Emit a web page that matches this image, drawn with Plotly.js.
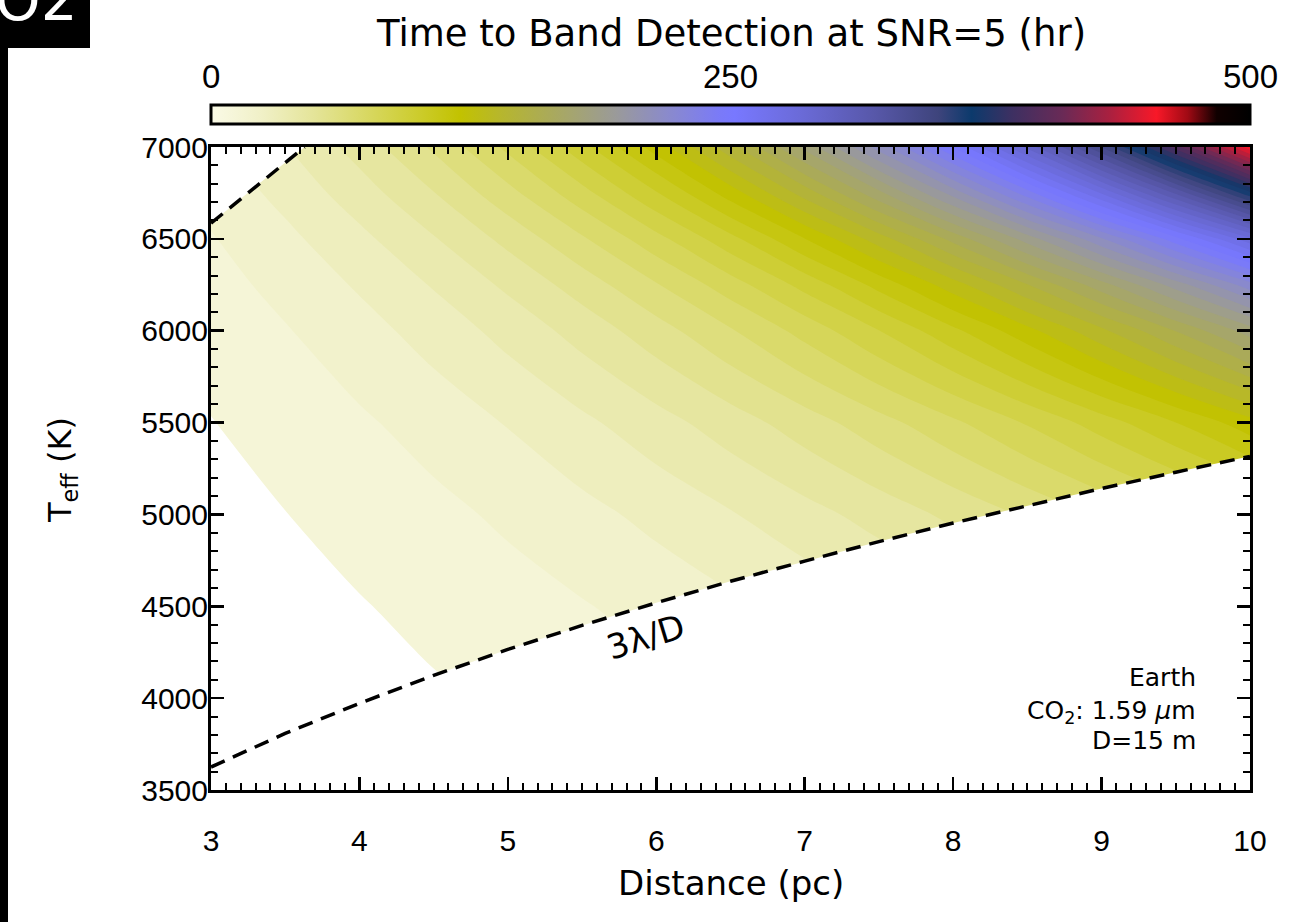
<!DOCTYPE html>
<html>
<head>
<meta charset="utf-8">
<script src="https://cdn.plot.ly/plotly-3.0.1.min.js"></script>
<style>
html, body { margin: 0; padding: 0; background: #ffffff; }
#chart { width: 1313px; height: 922px; }
</style>
</head>
<body>
<div id="chart"></div>
<script>
// ---- Data ----
const distances = [3, 3.5, 4, 4.5, 5, 5.5, 6, 6.5, 7, 7.5, 8, 8.5, 9, 9.5, 10];   // pc
const teffs = [3500, 4000, 4500, 5000, 5500, 6000, 6250, 6500, 6750, 7000];        // K

// Time to band detection (hr), one row per Teff
const time3500 = [2.1, 3.0, 4.1, 5.3, 6.7, 8.3, 10.1, 12.0, 14.2, 16.6, 19.1, 21.9, 24.9, 28.1, 31.6];
const time4000 = [3.0, 4.2, 5.7, 7.4, 9.3, 11.5, 14.0, 16.8, 19.8, 23.1, 26.7, 30.6, 34.8, 39.3, 44.0];
const time4500 = [4.1, 5.9, 7.9, 10.3, 13.0, 16.1, 19.6, 23.4, 27.6, 32.3, 37.3, 42.7, 48.5, 54.8, 61.5];
const time5000 = [5.8, 8.2, 11.0, 14.3, 18.2, 22.5, 27.3, 32.7, 38.6, 45.0, 52.0, 59.6, 67.7, 76.5, 85.8];
const time5500 = [8.1, 11.4, 15.4, 20.1, 25.5, 31.6, 38.4, 46.0, 54.3, 63.5, 73.4, 84.2, 95.9, 108.3, 121.7];
const time6000 = [11.4, 16.1, 21.8, 28.4, 36.1, 44.9, 54.8, 65.8, 78.0, 91.5, 106.3, 122.3, 139.8, 158.7, 179.1];
const time6250 = [13.5, 19.2, 26.0, 34.0, 43.3, 53.9, 66.0, 79.5, 94.5, 111.2, 129.6, 149.7, 171.6, 195.5, 221.4];
const time6500 = [16.1, 22.9, 31.2, 41.0, 52.4, 65.5, 80.5, 97.4, 116.4, 137.6, 161.1, 187.1, 215.6, 247.0, 281.2];
const time6750 = [19.3, 27.6, 37.7, 49.7, 63.9, 80.3, 99.3, 120.8, 145.3, 172.8, 203.5, 237.9, 275.9, 318.1, 364.5];
const time7000 = [23.0, 32.9, 45.1, 59.7, 77.0, 97.2, 120.5, 147.2, 177.6, 212.0, 250.6, 294.0, 342.3, 396.0, 455.4];

// 3 lambda/D inner working angle limit (dashed line)
const iwaDistances = [3, 3.5, 4, 4.5, 5, 5.5, 6, 6.5, 7, 7.5, 8, 8.5, 9, 9.5, 10];
const iwaTeffs = [3625, 3808, 3972, 4124, 4265, 4396, 4519, 4636, 4746, 4852, 4953, 5049, 5141, 5230, 5316];

// upper-left limit (dashed line)
const upperDistances = [3, 3.3, 3.63];
const upperTeffs = [6585, 6785, 7000];

// colour table: [hours, colour]
const colorStops = [
  [0, '#fafae6'], [10, '#f6f6da'], [25, '#f0f0c6'], [50, '#e4e498'], [75, '#d8d862'],
  [100, '#cccc2c'], [120, '#c2c200'], [140, '#b6b62e'], [165, '#a9a95e'], [195, '#9a9a9a'],
  [220, '#8a8acc'], [245, '#7a7af8'], [252, '#7878ff'], [285, '#6a6ad6'], [320, '#5757a8'],
  [350, '#3e447c'], [366, '#0c3a6c'], [385, '#3c3062'], [410, '#6a2a56'], [432, '#a82040'],
  [455, '#f81828'], [470, '#a00a14'], [484, '#100000'], [500, '#000000']
];
const colorbarRange = [0, 500];
const colorbarTicks = [0, 250, 500];
const contourLevelCount = 60;
const xTicks = [3, 4, 5, 6, 7, 8, 9, 10];
const yTicks = [3500, 4000, 4500, 5000, 5500, 6000, 6500, 7000];
const xRange = [3, 10];
const yRange = [3500, 7000];

// ---- Build ----
const timeGrid = [time3500, time4000, time4500, time5000, time5500, time6000, time6250, time6500, time6750, time7000];

const cSize = (colorbarRange[1] - colorbarRange[0]) / contourLevelCount;
const cStart = colorbarRange[0] + cSize;
const cEnd = colorbarRange[1] - cSize + 0.01;
const nLevels = Math.floor((cEnd - cStart) / cSize + 1e-9) + 1;
const span = nLevels * cSize;
const offset = cStart - cSize / 2;

const cbScale = colorStops.map(s => [(s[0] - colorbarRange[0]) / (colorbarRange[1] - colorbarRange[0]), s[1]]);
const contourScale = [[0, '#ffffff']];
colorStops.forEach(s => {
  const p = (s[0] - offset) / span;
  if (p > 0.004 && p < 1) contourScale.push([p, s[1]]);
});
contourScale.push([1, '#000000']);

// plot-area pixel frame (for paper placement of decorations)
const W = 1313, H = 922, L = 211, R = 1250, T = 147, B = 790;
const px = v => (v - L) / (R - L);
const py = v => (B - v) / (B - T);

const xPad = [xRange[0] - 0.3, xRange[1] + 0.3];
const yPad = [yRange[0] - 200, yRange[1] + 200];

const lowerMaskX = [xPad[0], ...iwaDistances, xPad[1], xPad[1], xPad[0]];
const lowerMaskY = [iwaTeffs[0], ...iwaTeffs, iwaTeffs[iwaTeffs.length - 1], yPad[0], yPad[0]];
const upperMaskX = [xPad[0], ...upperDistances, upperDistances[upperDistances.length - 1], xPad[0]];
const upperMaskY = [upperTeffs[0], ...upperTeffs, yPad[1], yPad[1]];

const traces = [
  {
    type: 'contour', x: distances, y: teffs, z: timeGrid,
    autocontour: false,
    contours: { start: cStart, end: cEnd, size: cSize, coloring: 'fill', showlines: false },
    line: { width: 0, smoothing: 1 },
    colorscale: contourScale, showscale: false, hoverinfo: 'skip'
  },
  { type: 'scatter', mode: 'lines', x: lowerMaskX, y: lowerMaskY, fill: 'toself',
    fillcolor: '#ffffff', line: { width: 0, color: '#ffffff' }, hoverinfo: 'skip' },
  { type: 'scatter', mode: 'lines', x: upperMaskX, y: upperMaskY, fill: 'toself',
    fillcolor: '#ffffff', line: { width: 0, color: '#ffffff' }, hoverinfo: 'skip' },
  { type: 'scatter', mode: 'lines', x: iwaDistances, y: iwaTeffs,
    line: { color: '#000000', width: 3.5, dash: '15px,9px' }, hoverinfo: 'skip' },
  { type: 'scatter', mode: 'lines', x: upperDistances, y: upperTeffs,
    line: { color: '#000000', width: 3.5, dash: '15px,9px' }, hoverinfo: 'skip' },
  {
    type: 'heatmap', x: [xRange[1] + 5, xRange[1] + 6], y: yRange,
    z: [colorbarRange, colorbarRange], zmin: colorbarRange[0], zmax: colorbarRange[1],
    colorscale: cbScale, showscale: true, hoverinfo: 'skip',
    colorbar: {
      orientation: 'h', x: 0.5, xanchor: 'center', xref: 'paper',
      y: py(116), yanchor: 'middle', yref: 'paper',
      len: 1, lenmode: 'fraction', thickness: 19, thicknessmode: 'pixels',
      xpad: 0, ypad: 0, outlinewidth: 3, outlinecolor: '#000000', borderwidth: 0,
      tickmode: 'array', tickvals: colorbarTicks, ticks: '', showticklabels: false
    }
  }
];

const axisCommon = {
  showgrid: false, zeroline: false, showline: true, linecolor: '#000000', linewidth: 3,
  mirror: 'allticks', ticks: 'inside', tickcolor: '#000000', tickwidth: 2.5, ticklen: 13,
  tickfont: { family: 'Liberation Sans', size: 30, color: '#000000' }
};

const cbLabelAnnotations = colorbarTicks.map(v => ({
  xref: 'paper', yref: 'paper', x: (v - colorbarRange[0]) / (colorbarRange[1] - colorbarRange[0]),
  y: py(77), xanchor: 'center', yanchor: 'middle', text: String(v), showarrow: false,
  font: { family: 'Liberation Sans', size: 33, color: '#000000' }
}));

const layout = {
  width: W, height: H, autosize: false,
  margin: { l: L, r: W - R, t: T, b: H - B, pad: 0 },
  paper_bgcolor: '#ffffff', plot_bgcolor: '#ffffff',
  showlegend: false,
  xaxis: Object.assign({}, axisCommon, {
    range: xRange, tickmode: 'array', tickvals: xTicks, ticktext: xTicks.map(String),
    ticklabelstandoff: 22,
    minor: { dtick: 0.1, ticks: 'inside', ticklen: 7, tickwidth: 2, tickcolor: '#000000', showgrid: false }
  }),
  yaxis: Object.assign({}, axisCommon, {
    range: yRange, tickmode: 'array', tickvals: yTicks, ticktext: yTicks.map(String),
    ticklabelstandoff: -6,
    minor: { dtick: 100, ticks: 'inside', ticklen: 7, tickwidth: 2, tickcolor: '#000000', showgrid: false }
  }),
  shapes: [
    { type: 'line', xref: 'paper', yref: 'paper', x0: 0.5, x1: 0.5, y0: py(107), y1: py(125),
      line: { color: '#000000', width: 2.5 } },
    { type: 'rect', xref: 'paper', yref: 'paper', x0: px(0), x1: px(90), y0: py(48), y1: py(0),
      fillcolor: '#000000', line: { width: 0 } },
    { type: 'rect', xref: 'paper', yref: 'paper', x0: px(0), x1: px(8), y0: py(H), y1: py(0),
      fillcolor: '#000000', line: { width: 0 } }
  ],
  annotations: cbLabelAnnotations.concat([
    { xref: 'paper', yref: 'paper', x: 0.5, y: py(33), xanchor: 'center', yanchor: 'middle',
      text: 'Time to Band Detection at SNR=5 (hr)', showarrow: false,
      font: { family: 'DejaVu Sans', size: 37, color: '#000000' } },
    { xref: 'paper', yref: 'paper', x: px(62), y: py(470), xanchor: 'center', yanchor: 'middle',
      text: 'T<sub>eff</sub> (K)', textangle: -90, showarrow: false,
      font: { family: 'DejaVu Sans', size: 32, color: '#000000' } },
    { xref: 'paper', yref: 'paper', x: 0.5, y: py(883), xanchor: 'center', yanchor: 'middle',
      text: 'Distance (pc)', showarrow: false,
      font: { family: 'DejaVu Sans', size: 34, color: '#000000' } },
    { xref: 'x', yref: 'y', x: 5.925, y: 4333, xanchor: 'center', yanchor: 'middle',
      text: '3λ/D', textangle: -17, showarrow: false,
      font: { family: 'DejaVu Sans', size: 34, color: '#000000' } },
    { xref: 'x', yref: 'y', x: 9.65, y: 4110, xanchor: 'right', yanchor: 'middle',
      text: 'Earth', showarrow: false, font: { family: 'DejaVu Sans', size: 25, color: '#000000' } },
    { xref: 'x', yref: 'y', x: 9.65, y: 3925, xanchor: 'right', yanchor: 'middle',
      text: 'CO<sub>2</sub>: 1.59 <i>μ</i>m', showarrow: false, font: { family: 'DejaVu Sans', size: 25, color: '#000000' } },
    { xref: 'x', yref: 'y', x: 9.65, y: 3772, xanchor: 'right', yanchor: 'middle',
      text: 'D=15 m', showarrow: false, font: { family: 'DejaVu Sans', size: 25, color: '#000000' } },
    { xref: 'paper', yref: 'paper', x: px(80), y: py(36), xanchor: 'right', yanchor: 'bottom',
      text: 'O2', showarrow: false, font: { family: 'DejaVu Sans', size: 58, color: '#ffffff' } }
  ])
};

Plotly.newPlot('chart', traces, layout, { staticPlot: true, displayModeBar: false });
</script>
</body>
</html>
